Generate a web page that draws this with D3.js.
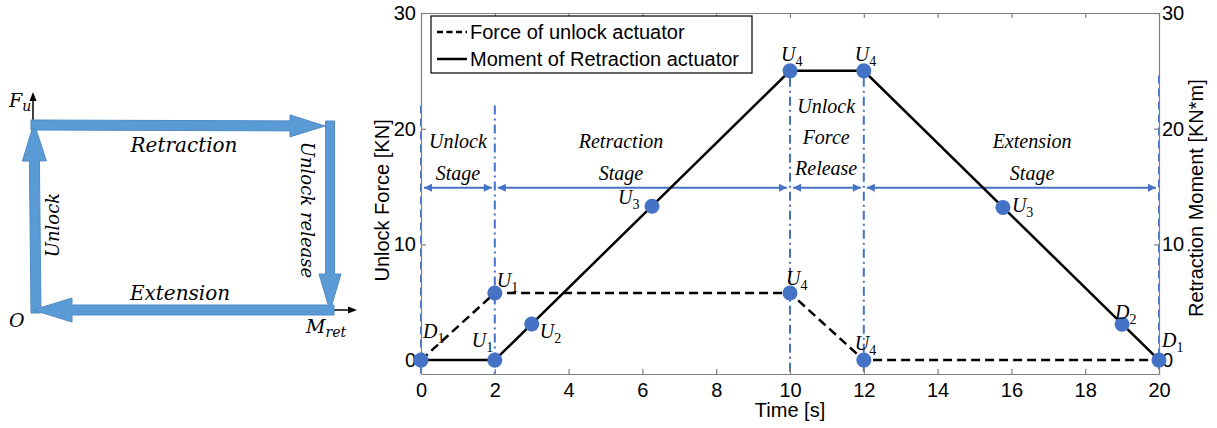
<!DOCTYPE html>
<html>
<head>
<meta charset="utf-8">
<script src="https://cdn.jsdelivr.net/npm/d3@7"></script>
<style>
  body { margin: 0; background: #fff; }
  svg { display: block; }
</style>
</head>
<body>
<svg id="chart" width="1217" height="428"></svg>
<script>
// time axis and the two series (force in KN, moment in KN*m)
const timeTicks = [0, 2, 4, 6, 8, 10, 12, 14, 16, 18, 20];
const valueTicks = [0, 10, 20, 30];

const forceTime = [0, 2, 10, 12, 20];
const forceValue = [0, 5.8, 5.8, 0, 0];

const momentTime = [0, 2, 10, 12, 20];
const momentValue = [0, 0, 25, 25, 0];

// labelled points on each curve
const forcePointNames = ['D1', 'U1', 'U4', 'U4'];
const forcePointTime = [0, 2, 10, 12];
const forcePointValue = [0, 5.8, 5.8, 0];

const momentPointNames = ['U1', 'U2', 'U3', 'U4', 'U4', 'U3', 'D2', 'D1'];
const momentPointTime = [2, 3, 6.26, 10, 12, 15.77, 19, 20];
const momentPointValue = [0, 3.125, 13.3, 25, 25, 13.2, 3.1, 0];

// stage boundaries and stage names
const stageEdges = [0, 2, 10, 12, 20];
const stageNames = [['Unlock', 'Stage'], ['Retraction', 'Stage'], ['Unlock', 'Force', 'Release'], ['Extension', 'Stage']];
const stageCenters = [1.0, 5.42, 10.98, 16.56];
const guideTops = [22.0, 22.0, 24.4, 24.4, 24.6];

const legendNames = ['Force of unlock actuator', 'Moment of Retraction actuator'];

const BLUE = '#4472c4';
const AXIS_GREY = '#808080';
const SANS = 'Liberation Sans, Arial, sans-serif';
const SERIF = 'Liberation Serif, Times New Roman, serif';

const svg = d3.select('#chart');

const x = d3.scaleLinear().domain([0, 20]).range([421, 1159]);
const y = d3.scaleLinear().domain([-1.2, 30]).range([374, 13]);

// ---------- left schematic ----------
drawSchematic(svg.append('g'));

// ---------- chart ----------
const plot = svg.append('g');

// vertical guide lines (dash-dot inside, dashed on the box edges)
plot.selectAll('.guide')
  .data(stageEdges)
  .enter()
  .append('line')
  .attr('x1', d => x(d))
  .attr('x2', d => x(d))
  .attr('y1', (d, i) => y(guideTops[i]))
  .attr('y2', y(-1.2))
  .attr('stroke', BLUE)
  .attr('stroke-width', 2)
  .attr('stroke-dasharray', (d, i) => (i === 0 || i === stageEdges.length - 1) ? '8,5' : '9,4,2,4');

// axes (box style, ticks inward)
const axisG = plot.append('g');
axisG.append('g')
  .attr('transform', `translate(0,${y(-1.2)})`)
  .call(d3.axisBottom(x).tickValues(timeTicks).tickSizeInner(-5).tickSizeOuter(0).tickPadding(9));
axisG.append('g')
  .attr('transform', `translate(0,${y(30)})`)
  .call(d3.axisTop(x).tickValues(timeTicks).tickSizeInner(-5).tickSizeOuter(0).tickFormat(''));
axisG.append('g')
  .attr('transform', `translate(${x(0)},0)`)
  .call(d3.axisLeft(y).tickValues(valueTicks).tickSizeInner(-5).tickSizeOuter(0).tickPadding(5));
axisG.append('g')
  .attr('transform', `translate(${x(20)},0)`)
  .call(d3.axisRight(y).tickValues(valueTicks).tickSizeInner(-5).tickSizeOuter(0).tickPadding(3));

axisG.selectAll('.domain').attr('stroke', AXIS_GREY).attr('stroke-width', 1.2);
axisG.selectAll('.tick line').attr('stroke', AXIS_GREY).attr('stroke-width', 1.2);
axisG.selectAll('.tick text')
  .attr('font-family', SANS)
  .attr('font-size', 20)
  .attr('fill', '#000');

// axis titles
plot.append('text')
  .attr('x', (x(0) + x(20)) / 2)
  .attr('y', 417)
  .attr('text-anchor', 'middle')
  .attr('font-family', SANS)
  .attr('font-size', 20)
  .text('Time [s]');

plot.append('text')
  .attr('transform', `translate(389,${y(13.8)}) rotate(-90)`)
  .attr('text-anchor', 'middle')
  .attr('font-family', SANS)
  .attr('font-size', 20)
  .text('Unlock Force [KN]');

plot.append('text')
  .attr('transform', `translate(1203,${y(14)}) rotate(-90)`)
  .attr('text-anchor', 'middle')
  .attr('font-family', SANS)
  .attr('font-size', 20)
  .text('Retraction Moment [KN*m]');

// stage arrows
const defs = svg.append('defs');
['start', 'end'].forEach(kind => {
  defs.append('marker')
    .attr('id', 'stage-' + kind)
    .attr('viewBox', '0 0 10 10')
    .attr('refX', kind === 'end' ? 10 : 0)
    .attr('refY', 5)
    .attr('markerWidth', 9)
    .attr('markerHeight', 8)
    .attr('markerUnits', 'userSpaceOnUse')
    .attr('orient', 'auto')
    .append('path')
    .attr('d', kind === 'end' ? 'M0,0 L10,5 L0,10 Z' : 'M10,0 L0,5 L10,10 Z')
    .attr('fill', BLUE);
});

const stageY = 14.9;
const stages = d3.range(stageEdges.length - 1).map(i => ({
  from: stageEdges[i], to: stageEdges[i + 1], names: stageNames[i], center: stageCenters[i]
}));

plot.selectAll('.stage-arrow')
  .data(stages)
  .enter()
  .append('line')
  .attr('x1', d => x(d.from) + 3)
  .attr('x2', d => x(d.to) - 3)
  .attr('y1', y(stageY))
  .attr('y2', y(stageY))
  .attr('stroke', BLUE)
  .attr('stroke-width', 2)
  .attr('marker-start', 'url(#stage-start)')
  .attr('marker-end', 'url(#stage-end)');

// stage names
stages.forEach(s => {
  const top = s.names.length === 3 ? 21.4 : 18.3;
  s.names.forEach((name, j) => {
    plot.append('text')
      .attr('x', x(s.center))
      .attr('y', y(top - j * 2.7))
      .attr('text-anchor', 'middle')
      .attr('font-family', SERIF)
      .attr('font-style', 'italic')
      .attr('font-size', 20)
      .text(name);
  });
});

// curves
const line = d3.line().x(d => x(d[0])).y(d => y(d[1]));

plot.append('path')
  .datum(d3.zip(forceTime, forceValue))
  .attr('d', line)
  .attr('fill', 'none')
  .attr('stroke', '#000')
  .attr('stroke-width', 2.5)
  .attr('stroke-dasharray', '9,5');

plot.append('path')
  .datum(d3.zip(momentTime, momentValue))
  .attr('d', line)
  .attr('fill', 'none')
  .attr('stroke', '#000')
  .attr('stroke-width', 2.5);

// points with labels
const labelOffsets = {
  force: [[2, -22], [2, -6], [-4, -8], [-9, -10]],
  moment: [[-23, -13], [8, 14], [-34, -2], [-9, -10], [-9, -10], [9, 5], [-7, -5], [3, -13]]
};

const points = forcePointNames.map((n, i) => ({ name: n, t: forcePointTime[i], v: forcePointValue[i], off: labelOffsets.force[i] }))
  .concat(momentPointNames.map((n, i) => ({ name: n, t: momentPointTime[i], v: momentPointValue[i], off: labelOffsets.moment[i] })));

plot.selectAll('.pt')
  .data(points)
  .enter()
  .append('circle')
  .attr('cx', d => x(d.t))
  .attr('cy', d => y(d.v))
  .attr('r', 7.5)
  .attr('fill', BLUE);

const ptLabels = plot.selectAll('.pt-label')
  .data(points)
  .enter()
  .append('text')
  .attr('x', d => x(d.t) + d.off[0])
  .attr('y', d => y(d.v) + d.off[1])
  .attr('font-family', SERIF)
  .attr('font-size', 20);
ptLabels.append('tspan').attr('font-style', 'italic').text(d => d.name[0]);
ptLabels.append('tspan').attr('font-size', 14).attr('dy', 5).text(d => d.name.slice(1));

// legend
const legend = plot.append('g');
legend.append('rect')
  .attr('x', 431).attr('y', 16)
  .attr('width', 321).attr('height', 57)
  .attr('fill', '#fff')
  .attr('stroke', '#000')
  .attr('stroke-width', 1.2);
legendNames.forEach((name, i) => {
  const ly = 32 + i * 27;
  legend.append('line')
    .attr('x1', 437).attr('x2', 467)
    .attr('y1', ly).attr('y2', ly)
    .attr('stroke', '#000')
    .attr('stroke-width', 2.5)
    .attr('stroke-dasharray', i === 0 ? '6,3.5' : null);
  legend.append('text')
    .attr('x', 470)
    .attr('y', ly + 7)
    .attr('font-family', SANS)
    .attr('font-size', 20)
    .text(name);
});

// ---------- schematic: state cycle of the two actuators ----------
function drawSchematic(g) {
  const DIAG_FONT = 'DejaVu Serif, serif';
  const sx = d3.scaleLinear().domain([0, 1]).range([33, 330]);
  const sy = d3.scaleLinear().domain([0, 1]).range([310, 125]);

  // black axes
  g.append('line')
    .attr('x1', sx(0)).attr('y1', sy(0)).attr('x2', sx(0)).attr('y2', 98)
    .attr('stroke', '#000').attr('stroke-width', 1.5);
  g.append('path').attr('d', `M${sx(0)},92 L${sx(0) - 3.5},101 L${sx(0) + 3.5},101 Z`).attr('fill', '#000');
  g.append('line')
    .attr('x1', sx(0)).attr('y1', sy(0)).attr('x2', 350).attr('y2', sy(0))
    .attr('stroke', '#000').attr('stroke-width', 1.5);
  g.append('path').attr('d', `M357,${sy(0)} L348,${sy(0) - 3.5} L348,${sy(0) + 3.5} Z`).attr('fill', '#000');

  function blockArrow(a, b, sw, hw, hl) {
    const dx = b[0] - a[0], dy = b[1] - a[1];
    const len = Math.hypot(dx, dy);
    const ux = dx / len, uy = dy / len;
    const nx = -uy, ny = ux;
    const bx = b[0] - ux * hl, by = b[1] - uy * hl;
    const pts = [
      [a[0] + nx * sw / 2, a[1] + ny * sw / 2],
      [bx + nx * sw / 2, by + ny * sw / 2],
      [bx + nx * hw / 2, by + ny * hw / 2],
      b,
      [bx - nx * hw / 2, by - ny * hw / 2],
      [bx - nx * sw / 2, by - ny * sw / 2],
      [a[0] - nx * sw / 2, a[1] - ny * sw / 2]
    ];
    g.append('path')
      .attr('d', 'M' + pts.map(p => p.join(',')).join('L') + 'Z')
      .attr('fill', '#5b9bd5')
      .attr('stroke', '#4f8bc6')
      .attr('stroke-width', 1);
  }

  blockArrow([sx(0) + 3, sy(0) + 3], [sx(0) + 1, sy(1) - 2], 10, 24, 38);      // unlock
  blockArrow([sx(0) - 2, sy(1)], [sx(1) - 5, sy(1) + 1], 10, 22, 35);          // retraction
  blockArrow([sx(1), sy(1) - 4], [sx(1), sy(0) + 1], 9, 22, 37);               // unlock release
  blockArrow([sx(1) + 4, sy(0)], [sx(0), sy(0)], 10, 24, 39);                  // extension

  const label = (txt, px, py, rot, size) => g.append('text')
    .attr('transform', `translate(${px},${py})` + (rot ? ` rotate(${rot})` : ''))
    .attr('text-anchor', 'middle')
    .attr('font-family', DIAG_FONT)
    .attr('font-style', 'italic')
    .attr('font-size', size)
    .text(txt);

  label('Retraction', 184, 152, 0, 20);
  label('Extension', 180, 300, 0, 20);
  label('Unlock', 59, 225, -90, 18);
  label('Unlock release', 301, 210, 90, 18);

  const sub = (main, subTxt, px, py) => {
    const t = g.append('text')
      .attr('x', px).attr('y', py)
      .attr('font-family', DIAG_FONT)
      .attr('font-style', 'italic')
      .attr('font-size', 19);
    t.append('tspan').text(main);
    if (subTxt) t.append('tspan').attr('font-size', 14).attr('dy', 4).text(subTxt);
  };
  sub('F', 'u', 9, 107);
  sub('O', null, 9, 327);
  sub('M', 'ret', 306, 333);
}
</script>
</body>
</html>
